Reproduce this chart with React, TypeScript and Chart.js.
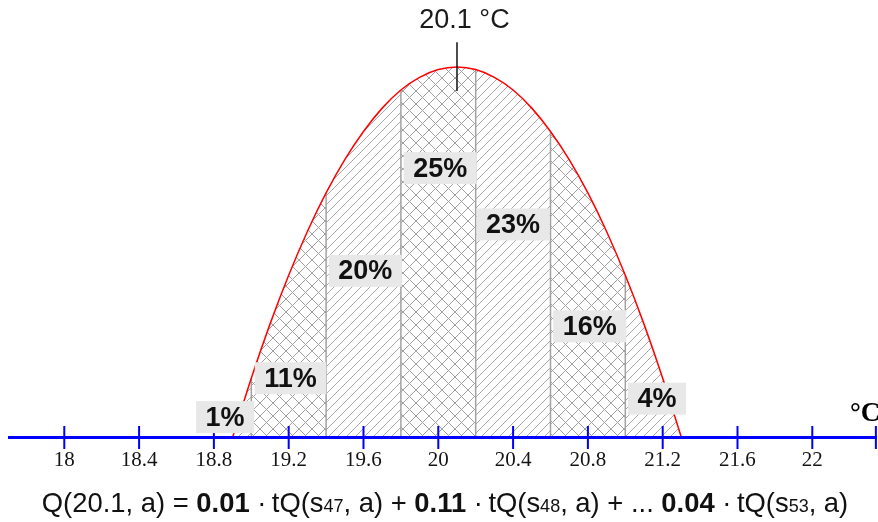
import React, { useEffect, useRef } from 'react';
import { Chart, registerables } from 'chart.js';

Chart.register(...registerables);

// ---- data ----
const X_MIN = 17.699;
const X_MAX = 22.346;
const TICK_VALUES = [18, 18.4, 18.8, 19.2, 19.6, 20, 20.4, 20.8, 21.2, 21.6, 22];

const CURVE_X = [18.9, 19.0, 19.1, 19.2, 19.3, 19.4, 19.5, 19.6, 19.7, 19.8, 19.9, 20.0, 20.1,
  20.2, 20.3, 20.4, 20.5, 20.6, 20.7, 20.8, 20.9, 21.0, 21.1, 21.2, 21.3];
const CURVE_Y = [0, 0.16, 0.306, 0.438, 0.556, 0.66, 0.75, 0.826, 0.889, 0.938, 0.972, 0.993, 1.0,
  0.993, 0.972, 0.938, 0.889, 0.826, 0.75, 0.66, 0.556, 0.438, 0.306, 0.16, 0];

const BAND_EDGES = [18.9, 19.0, 19.4, 19.8, 20.2, 20.6, 21.0, 21.3];
const BAND_HATCH = ['diag', 'cross', 'diag', 'cross', 'diag', 'cross', 'diag'];
const BAND_LABELS = ['1%', '11%', '20%', '25%', '23%', '16%', '4%'];
const LABEL_X = [18.86, 19.21, 19.61, 20.01, 20.4, 20.81, 21.17];
const LABEL_Y = [0.055, 0.16, 0.45, 0.727, 0.575, 0.3, 0.105];

const PEAK_X = 20.1;
const PEAK_MARK_Y = [0.935, 1.067];
const PEAK_LABEL = '20.1 °C';
const PEAK_LABEL_X = 20.14;
const PEAK_LABEL_Y = 1.105;
const AXIS_UNIT = '°C';

const FORMULA_RUNS: [string, string][] = [
  ['Q(20.1, a) = ', 'n'], ['0.01', 'b'], [' \u00B7\u2009tQ(s', 'n'], ['47', 's'], [', a) + ', 'n'],
  ['0.11', 'b'], [' \u00B7\u2009tQ(s', 'n'], ['48', 's'], [', a) + ... ', 'n'],
  ['0.04', 'b'], [' \u00B7\u2009tQ(s', 'n'], ['53', 's'], [', a)', 'n'],
];

const SANS = '"Liberation Sans", Arial, sans-serif';
const SERIF = '"Liberation Serif", "Times New Roman", serif';

function makePattern(kind: string): CanvasPattern | string {
  const s = kind === 'diag' ? 9 : 13;
  const c = document.createElement('canvas');
  c.width = s; c.height = s;
  const g = c.getContext('2d');
  if (!g) return '#ddd';
  g.strokeStyle = kind === 'diag' ? '#a8a8a8' : '#a0a0a0';
  g.lineWidth = 1;
  g.beginPath();
  // "/" lines
  g.moveTo(-1, s + 1); g.lineTo(s + 1, -1);
  g.moveTo(-1, 1); g.lineTo(1, -1);
  g.moveTo(s - 1, s + 1); g.lineTo(s + 1, s - 1);
  if (kind === 'cross') {
    g.moveTo(-1, -1); g.lineTo(s + 1, s + 1);
    g.moveTo(s - 1, -1); g.lineTo(s + 1, 1);
    g.moveTo(-1, s - 1); g.lineTo(1, s + 1);
  }
  g.stroke();
  const p = g.createPattern(c, 'repeat');
  return p || '#ddd';
}

function bandIndex(v: number): number {
  for (let i = 0; i < BAND_EDGES.length - 1; i++) {
    if (v >= BAND_EDGES[i] - 1e-9 && v < BAND_EDGES[i + 1] - 1e-9) return i;
  }
  return BAND_EDGES.length - 2;
}

function curveAt(v: number): number {
  const i = CURVE_X.findIndex((c) => Math.abs(c - v) < 1e-9);
  return i >= 0 ? CURVE_Y[i] : 0;
}

export default function App() {
  const ref = useRef<HTMLCanvasElement | null>(null);

  useEffect(() => {
    const canvas = ref.current;
    if (!canvas) return;
    const patterns: Record<string, CanvasPattern | string> = {
      diag: makePattern('diag'),
      cross: makePattern('cross'),
    };
    const curvePts = CURVE_X.map((x, i) => ({ x, y: CURVE_Y[i] }));

    const datasets: any[] = [];
    // axis ticks (top-most)
    datasets.push({
      data: [...TICK_VALUES, X_MAX - 0.006].map((x) => ({ x, y: 0 })),
      showLine: false,
      pointStyle: 'line',
      rotation: 90,
      pointRadius: 11.5,
      borderColor: '#0000ff',
      borderWidth: 2,
      pointBorderWidth: 2,
      clip: false,
      order: 0,
    });
    // axis line
    datasets.push({
      data: [{ x: X_MIN, y: 0 }, { x: X_MAX, y: 0 }],
      borderColor: '#0000ff',
      borderWidth: 3,
      pointRadius: 0,
      fill: false,
      clip: false,
      order: 1,
    });
    // peak marker
    datasets.push({
      data: PEAK_MARK_Y.map((y) => ({ x: PEAK_X, y })),
      borderColor: '#111111',
      borderWidth: 1.5,
      pointRadius: 0,
      fill: false,
      clip: false,
      order: 2,
    });
    // red curve
    datasets.push({
      data: curvePts,
      borderColor: '#ff0000',
      borderWidth: 1.5,
      pointRadius: 0,
      cubicInterpolationMode: 'monotone',
      fill: false,
      clip: false,
      order: 3,
    });
    // band separators
    BAND_EDGES.slice(1, -1).forEach((b, i) => {
      datasets.push({
        data: [{ x: b, y: 0 }, { x: b, y: curveAt(b) }],
        borderColor: '#a2a2a2',
        borderWidth: 1.5,
        pointRadius: 0,
        fill: false,
        clip: false,
        order: 4 + i * 0.01,
      });
    });
    // hatched fill
    datasets.push({
      data: curvePts,
      borderWidth: 0,
      borderColor: 'rgba(0,0,0,0)',
      backgroundColor: patterns.diag,
      pointRadius: 0,
      cubicInterpolationMode: 'monotone',
      fill: 'origin',
      clip: false,
      order: 10,
      segment: {
        backgroundColor: (c: any) => patterns[BAND_HATCH[bandIndex(c.p0.parsed.x)]],
        borderDashOffset: (c: any) => bandIndex(c.p0.parsed.x),
      },
    });

    const overlay = {
      id: 'overlay',
      afterDatasetsDraw(chart: any) {
        const { ctx, scales, chartArea } = chart;
        const xs = scales.x;
        const ys = scales.y;
        ctx.save();
        // band percentage labels
        ctx.font = `bold 27px ${SANS}`;
        ctx.textAlign = 'center';
        ctx.textBaseline = 'middle';
        BAND_LABELS.forEach((t, i) => {
          const px = xs.getPixelForValue(LABEL_X[i]);
          const py = ys.getPixelForValue(LABEL_Y[i]);
          const w = ctx.measureText(t).width + 19;
          const h = 32;
          ctx.fillStyle = '#e8e8e8';
          ctx.fillRect(px - w / 2, py - h / 2, w, h);
          ctx.fillStyle = '#111111';
          ctx.fillText(t, px, py + 1);
        });
        // peak label
        ctx.font = `27px ${SANS}`;
        ctx.textBaseline = 'alphabetic';
        ctx.fillStyle = '#1a1a1a';
        ctx.fillText(PEAK_LABEL, xs.getPixelForValue(PEAK_LABEL_X), ys.getPixelForValue(PEAK_LABEL_Y));
        // axis unit
        ctx.font = `bold 27px ${SERIF}`;
        ctx.textAlign = 'left';
        ctx.fillStyle = '#000000';
        ctx.fillText(AXIS_UNIT, chartArea.right - 27, chartArea.bottom - 17);
        // formula
        const fonts: Record<string, string> = {
          n: `27.4px ${SANS}`,
          b: `bold 27.4px ${SANS}`,
          s: `18px ${SANS}`,
        };
        let total = 0;
        FORMULA_RUNS.forEach(([t, k]) => { ctx.font = fonts[k]; total += ctx.measureText(t).width; });
        let cx = chart.width / 2 + 6 - total / 2;
        const base = 512;
        ctx.fillStyle = '#111111';
        FORMULA_RUNS.forEach(([t, k]) => {
          ctx.font = fonts[k];
          ctx.fillText(t, cx, base);
          cx += ctx.measureText(t).width;
        });
        ctx.restore();
      },
    };

    const chart = new Chart(canvas, {
      type: 'line',
      data: { datasets },
      options: {
        responsive: false,
        maintainAspectRatio: false,
        devicePixelRatio: 1,
        animation: false,
        layout: { autoPadding: false, padding: { left: 8, right: 1, top: 67, bottom: 0 } },
        plugins: {
          legend: { display: false },
          tooltip: { enabled: false },
        },
        scales: {
          x: {
            type: 'linear',
            min: X_MIN,
            max: X_MAX,
            afterBuildTicks: (scale: any) => {
              scale.ticks = TICK_VALUES.map((v) => ({ value: v }));
            },
            afterFit: (scale: any) => {
              scale.height = 84.5;
            },
            ticks: {
              autoSkip: false,
              maxRotation: 0,
              padding: 10,
              color: '#141414',
              font: { family: SERIF, size: 21 },
              callback: (v: any) => String(v),
            },
            grid: { display: false, drawTicks: false },
            border: { display: false },
          },
          y: {
            type: 'linear',
            display: false,
            min: 0,
            max: 1,
          },
        },
      } as any,
      plugins: [overlay],
    });
    return () => chart.destroy();
  }, []);

  return (
    <div style={{ position: 'fixed', left: 0, top: 0, width: 878, height: 522, background: '#fff' }}>
      <canvas ref={ref} width={878} height={522} style={{ display: 'block' }} />
    </div>
  );
}
